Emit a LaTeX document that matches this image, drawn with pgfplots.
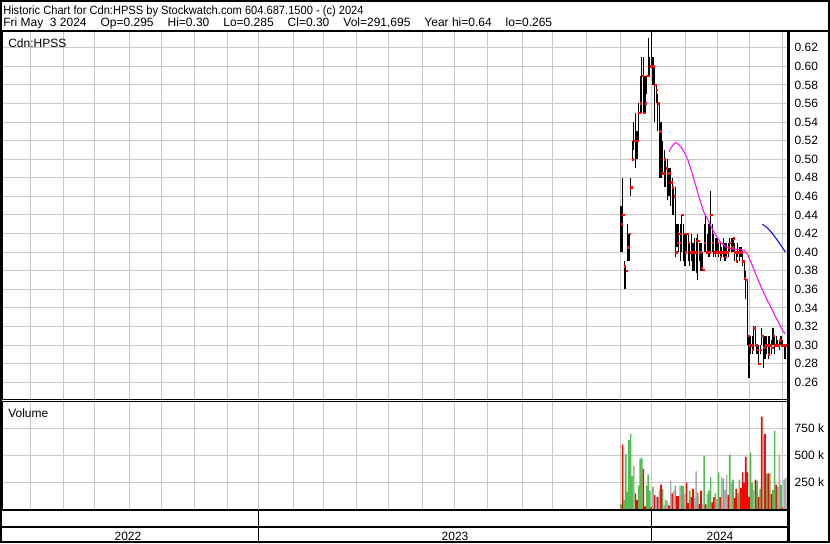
\documentclass[border=0pt]{standalone}
\usepackage{graphicx}
\usepackage{pgfplots}
\pgfplotsset{compat=1.18}
\usepackage{pgfplotstable}
\usepackage{fontspec}
\setmainfont{Liberation Sans}
\definecolor{gridgray}{RGB}{200,200,200}
\definecolor{vgreen}{RGB}{80,190,80}
\definecolor{vred}{RGB}{255,0,0}
\definecolor{vgray}{RGB}{170,170,170}
\definecolor{magma}{RGB}{255,0,255}
\definecolor{mablue}{RGB}{0,0,255}

% daily bars: trading-day index (0 = 1 Dec 2023), high, low, close
\pgfplotstableread{
i h l c
0 0.450 0.400 0.430
1 0.480 0.400 0.440
2 0.390 0.360 0.385
3 0.385 0.360 0.380
4 0.430 0.390 0.405
5 0.420 0.390 0.420
6 0.480 0.460 0.470
7 0.520 0.500 0.500
8 0.540 0.510 0.520
9 0.550 0.490 0.520
10 0.530 0.500 0.520
11 0.560 0.520 0.550
12 0.590 0.550 0.560
13 0.610 0.550 0.590
14 0.610 0.550 0.550
15 0.590 0.550 0.560
16 0.590 0.570 0.590
17 0.630 0.590 0.590
18 0.610 0.590 0.600
19 0.640 0.600 0.600
20 0.610 0.580 0.600
21 0.600 0.540 0.580
22 0.580 0.560 0.575
23 0.570 0.530 0.560
24 0.560 0.480 0.530
25 0.540 0.480 0.485
26 0.520 0.485 0.485
27 0.510 0.470 0.500
28 0.500 0.470 0.490
29 0.500 0.456 0.485
30 0.490 0.460 0.485
31 0.490 0.450 0.475
32 0.480 0.440 0.470
33 0.470 0.440 0.460
34 0.470 0.395 0.400
35 0.430 0.405 0.410
36 0.430 0.400 0.420
37 0.430 0.390 0.410
38 0.440 0.400 0.440
39 0.430 0.390 0.420
40 0.420 0.385 0.400
41 0.420 0.400 0.420
42 0.420 0.390 0.410
43 0.410 0.385 0.400
44 0.420 0.390 0.400
45 0.410 0.380 0.400
46 0.415 0.380 0.400
47 0.415 0.377 0.412
48 0.420 0.370 0.412
49 0.410 0.390 0.400
50 0.410 0.380 0.383
51 0.400 0.380 0.381
52 0.430 0.400 0.410
53 0.440 0.400 0.400
54 0.420 0.400 0.400
55 0.430 0.395 0.400
56 0.466 0.400 0.440
57 0.430 0.400 0.410
58 0.420 0.395 0.400
59 0.415 0.395 0.400
60 0.415 0.400 0.410
61 0.410 0.395 0.400
62 0.410 0.390 0.395
63 0.405 0.395 0.400
64 0.415 0.395 0.400
65 0.410 0.390 0.395
66 0.410 0.395 0.400
67 0.410 0.395 0.405
68 0.415 0.400 0.410
69 0.415 0.400 0.405
70 0.415 0.400 0.415
71 0.410 0.390 0.400
72 0.400 0.390 0.390
73 0.410 0.395 0.400
74 0.405 0.390 0.400
75 0.405 0.395 0.400
76 0.400 0.385 0.390
77 0.390 0.370 0.372
78 0.380 0.350 0.370
79 0.370 0.300 0.310
80 0.310 0.265 0.300
81 0.310 0.290 0.300
82 0.310 0.290 0.295
83 0.320 0.294 0.318
84 0.320 0.300 0.300
85 0.300 0.290 0.295
86 0.300 0.280 0.280
87 0.300 0.290 0.295
88 0.318 0.300 0.310
89 0.310 0.275 0.297
90 0.310 0.285 0.300
91 0.310 0.290 0.300
92 0.310 0.285 0.290
93 0.310 0.290 0.300
94 0.305 0.290 0.297
95 0.318 0.300 0.310
96 0.310 0.290 0.300
97 0.310 0.300 0.300
98 0.305 0.300 0.300
99 0.305 0.295 0.305
100 0.310 0.300 0.300
101 0.305 0.300 0.300
102 0.300 0.285 0.300
103 0.300 0.285 0.300
}\ohlc

% volume (thousands) - up days
\pgfplotstableread{
i v
0 48
2 86
3 515
4 165
5 642
6 697
7 305
11 220
12 467
13 477
16 220
17 324
18 175
26 191
28 86
34 220
38 220
39 220
43 175
48 157
52 496
55 175
56 296
59 150
61 343
64 286
68 506
70 277
73 150
74 277
81 525
82 248
85 267
87 191
91 334
93 334
95 181
96 728
100 229
}\volup

% volume (thousands) - down days
\pgfplotstableread{
i v
1 600
9 150
10 90
14 372
15 30
19 25
21 134
23 114
25 229
30 38
32 150
35 124
36 124
41 248
42 60
44 114
45 191
49 50
50 175
53 48
57 67
58 115
62 114
67 134
71 105
72 191
75 200
76 343
77 248
78 487
79 343
80 115
84 277
86 115
88 859
90 697
92 334
94 143
97 229
101 20
}\voldown

% volume (thousands) - unchanged days
\pgfplotstableread{
i v
8 400
20 210
22 118
24 181
27 40
29 75
31 270
33 170
37 220
40 140
46 105
47 352
51 48
54 143
60 96
63 296
65 181
66 324
69 248
83 181
89 677
98 210
99 506
102 277
103 292
}\volflat

\pgfplotsset{
  swbase/.style={
    scale only axis, width=589.5pt,
    xmin=-386.9, xmax=104.4,
    xtick={-368.9,-348.6,-328.9,-307.3,-287.3,-266.4,-246.1,-226.7,-204.8,-186.1,-165.2,-145.4,-123.9,-104.2,-83.3,-61.4,-42.7,-21.4,-0.6,19.2,40.6,60.2,80.2,101.1},
    xticklabels={},
    xmajorgrids, ymajorgrids,
    major grid style={color=gridgray, line width=0.75pt},
    major tick length=0pt,
    axis line style={black, line width=0.75pt},
    yticklabel pos=right,
    yticklabel style={font=\fontsize{9}{10}\selectfont, anchor=west, xshift=1.5pt},
    anchor=north west,
  }
}
\newcommand{\gap}{\hspace{10.5pt}}

\begin{document}
\begin{tikzpicture}
% price panel
\begin{axis}[swbase, at={(1.5pt,-23.775pt)}, height=276.075pt,
  ymin=0.24106, ymax=0.63722,
  ytick={0.26,0.28,0.30,0.32,0.34,0.36,0.38,0.40,0.42,0.44,0.46,0.48,0.50,0.52,0.54,0.56,0.58,0.60,0.62},
  yticklabels={0.26,0.28,0.30,0.32,0.34,0.36,0.38,0.40,0.42,0.44,0.46,0.48,0.50,0.52,0.54,0.56,0.58,0.60,0.62}]
\addplot[draw=none, no markers,
  error bars/.cd, y dir=plus, y explicit, error mark=none,
  error bar style={draw=black, solid, line width=0.8pt}]
  table[x=i, y=l, y error expr=\thisrow{h}-\thisrow{l}] {\ohlc};
\addplot[only marks, mark=square*, mark size=0.55pt, color=vred]
  table[x expr=\thisrow{i}+0.45, y=c] {\ohlc};
\addplot[magma, line width=0.75pt, no marks] coordinates {
(30,0.508) (32,0.514) (34,0.518) (36,0.516) (38,0.512) (41,0.503) (44,0.488)
(47,0.470) (49.5,0.455) (52,0.442) (54,0.436) (57,0.425) (60,0.416) (62,0.411)
(66,0.405) (70,0.403) (74,0.403) (77,0.402) (79,0.398) (82,0.386) (85,0.373)
(89,0.357) (93,0.343) (97,0.329) (101,0.316) (102.5,0.312)};
\addplot[mablue, line width=0.75pt, no marks] coordinates {
(88.3,0.430) (91,0.427) (94.2,0.421) (97.3,0.414) (100.4,0.406) (102.8,0.400)};
\end{axis}
% volume panel
\begin{axis}[swbase, at={(1.5pt,-301.35pt)}, height=80.775pt,
  ymin=0, ymax=995,
  ytick={250,500,750}, yticklabels={250 k,500 k,750 k}]
\addplot[ybar, bar width=1.0, bar shift=0pt, fill=vgreen, draw=none] table[x=i, y=v] {\volup};
\addplot[ybar, bar width=1.0, bar shift=0pt, fill=vred, draw=none] table[x=i, y=v] {\voldown};
\addplot[ybar, bar width=1.0, bar shift=0pt, fill=vgray, draw=none] table[x=i, y=v] {\volflat};
\end{axis}
% frame, header and year band (in pixel units)
\begin{scope}[x=0.75pt, y=-0.75pt]
\draw[line width=1.3pt] (0.85,0.85) rectangle (829.15,542.15);
\draw[line width=1.3pt] (0,30.8) -- (830,30.8);
\draw[line width=2pt] (788.7,30.8) -- (788.7,543);
\draw[line width=1.3pt] (0,509.8) -- (788.7,509.8);
\draw[line width=1.3pt] (0,526.9) -- (788.7,526.9);
\draw[line width=0.75pt] (258.5,509.8) -- (258.5,542);
\draw[line width=0.75pt] (651.7,509.8) -- (651.7,542);
\node[anchor=base west, inner sep=0pt, font=\fontsize{9}{10}\selectfont] at (3,14)
  {\scalebox{0.925}[1]{Historic Chart for Cdn:HPSS by Stockwatch.com 604.687.1500 - (c) 2024}};
\node[anchor=base west, inner sep=0pt, font=\fontsize{9}{10}\selectfont] at (3,26)
  {Fri May\ \ 3 2024\gap Op=0.295\gap Hi=0.30\gap Lo=0.285\gap Cl=0.30\gap Vol=291,695\gap Year hi=0.64\gap lo=0.265};
\node[anchor=base west, inner sep=0pt, font=\fontsize{9}{10}\selectfont] at (8,47) {Cdn:HPSS};
\node[anchor=base west, inner sep=0pt, font=\fontsize{9}{10}\selectfont] at (8,417) {Volume};
\node[anchor=base, inner sep=0pt, font=\fontsize{9}{10}\selectfont] at (128,540) {2022};
\node[anchor=base, inner sep=0pt, font=\fontsize{9}{10}\selectfont] at (455,540) {2023};
\node[anchor=base, inner sep=0pt, font=\fontsize{9}{10}\selectfont] at (720,540) {2024};
\pgfresetboundingbox
\path[use as bounding box] (0,0) rectangle (830,543);
\end{scope}
\end{tikzpicture}
\end{document}
